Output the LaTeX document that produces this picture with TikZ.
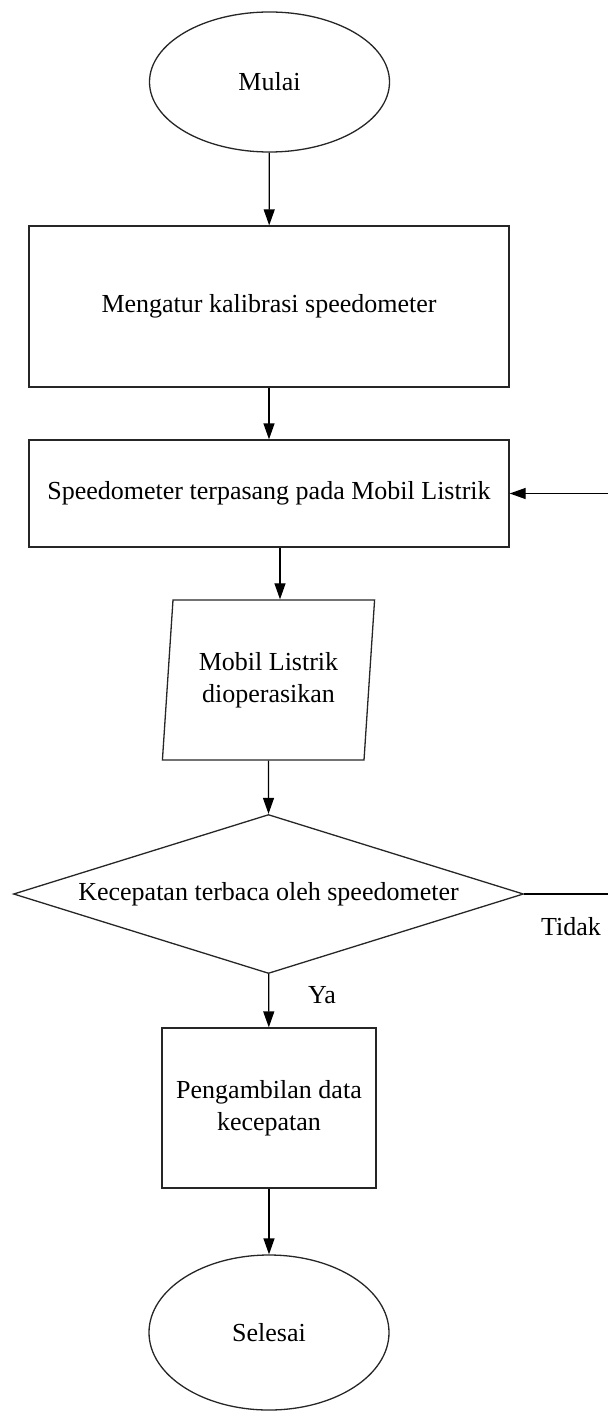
\documentclass[tikz,border=0pt]{standalone}
\usepackage{fontspec}
\setmainfont{Liberation Serif}
\usetikzlibrary{shapes.geometric,arrows.meta}

\begin{document}
\begin{tikzpicture}[x=0.5pt, y=-0.5pt, line width=0.65pt, >={Triangle[length=8pt,width=5.5pt]},
	font=\fontsize{13}{16}\selectfont,
	terminal/.style={ellipse, draw=black!85, minimum width=120pt},
	proses/.style={rectangle, draw=black!85, align=center},
	io/.style={trapezium, trapezium left angle=83, trapezium right angle=97, trapezium stretches=true, draw=black!85, align=center},
	keputusan/.style={diamond, aspect=3.2, inner sep=0pt, draw=black!85}]
		\useasboundingbox (0,0) rectangle (608,1412);
		
		%langkah
		\node[terminal, minimum height=70pt] (mulai) at (269.5,82) {Mulai};
		\node[proses, minimum width=240pt, minimum height=80.5pt] (kalibrasi) at (269,306.5) {Mengatur kalibrasi speedometer};
		\node[proses, minimum width=240pt, minimum height=53.5pt] (pasang) at (269,493.5) {Speedometer terpasang pada Mobil Listrik};
		\node[io, minimum width=107pt, minimum height=80pt] (operasi) at (268.5,680) {Mobil Listrik\\dioperasikan};
		\node[keputusan, minimum width=255pt, minimum height=79.5pt] (cek) at (268.5,894) {Kecepatan terbaca oleh speedometer};
		\node[proses, minimum width=107pt, minimum height=80pt] (ambil) at (269,1108) {Pengambilan data\\kecepatan};
		\node[terminal, minimum height=77.5pt] (selesai) at (269,1332.5) {Selesai};
		
		%label cabang
		\node (tidak) at (571,927) {Tidak};
		\node (ya) at (322,995) {Ya};
		
		%alur
		\draw[->] (mulai) -- (kalibrasi);
		\draw[->] (kalibrasi) -- (pasang);
		\draw[->] ([xshift=5.5pt]pasang.south) -- ([xshift=5.5pt]pasang.south |- operasi.north);
		\draw[->] (operasi.south) -- (cek.north);
		\draw[->] (cek) -- (ambil);
		\draw[->] (ambil) -- (selesai);
		
		%kembali
		\coordinate (kanan) at (609,894);
		\draw[->] (cek.east) -- (kanan) |- (pasang.east);
\end{tikzpicture}
\end{document}
